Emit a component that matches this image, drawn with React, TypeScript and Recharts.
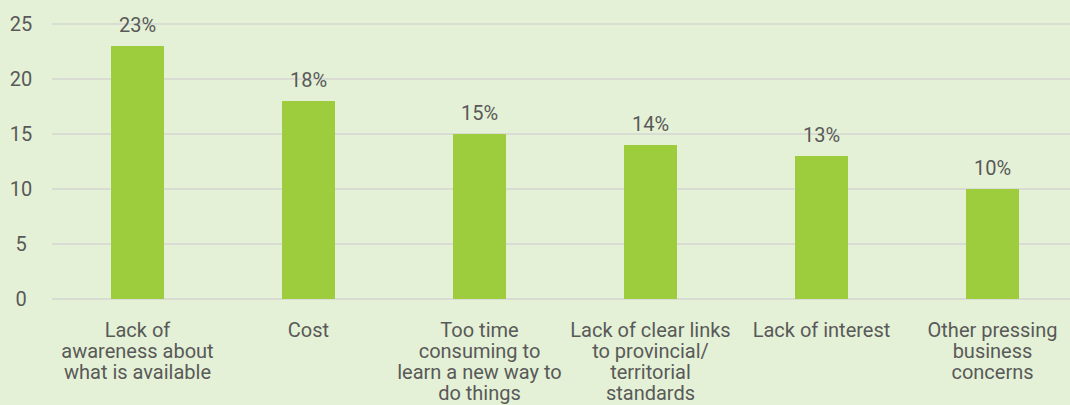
import React from 'react';
import { BarChart, Bar, XAxis, YAxis, CartesianGrid, LabelList } from 'recharts';

const categories = [
  'Lack of\nawareness about\nwhat is available',
  'Cost',
  'Too time\nconsuming to\nlearn a new way to\ndo things',
  'Lack of clear links\nto provincial/\nterritorial\nstandards',
  'Lack of interest',
  'Other pressing\nbusiness\nconcerns',
];
const shares = [23, 18, 15, 14, 13, 10];
const yTicks = [0, 5, 10, 15, 20, 25];

const data = categories.map((name, i) => ({ name, value: shares[i] }));

const FONT = 'Roboto, "Noto Sans", sans-serif';
const TEXT = '#595959';

const CategoryTick = (props: any) => {
  const { x, payload } = props;
  const lines = String(payload.value).split('\n');
  return (
    <text x={x} y={337} textAnchor="middle" fill={TEXT} fontSize={20} fontFamily={FONT}>
      {lines.map((line, i) => (
        <tspan key={i} x={x} dy={i === 0 ? 0 : 21}>{line}</tspan>
      ))}
    </text>
  );
};

const ValueTick = (props: any) => {
  const { y, payload } = props;
  return (
    <text x={21} y={y} dy={7} textAnchor="middle" fill={TEXT} fontSize={20} fontFamily={FONT}>
      {payload.value}
    </text>
  );
};

const PercentLabel = (props: any) => {
  const { x, y, width, value } = props;
  return (
    <text x={x + width / 2} y={y - 14} textAnchor="middle" fill={TEXT} fontSize={20} fontFamily={FONT}>
      {value}%
    </text>
  );
};

export default function App() {
  return (
    <div style={{ position: 'absolute', left: 0, top: 0, width: 1070, height: 405, overflow: 'hidden', background: '#e4f1d6' }}>
      <BarChart width={1090} height={405} data={data} margin={{ top: 24, right: 12, bottom: 0, left: 0 }}>
        <CartesianGrid vertical={false} stroke="#d9dcd3" strokeWidth={2} />
        <XAxis dataKey="name" interval={0} axisLine={false} tickLine={false} tick={<CategoryTick />} height={106} />
        <YAxis domain={[0, 25]} ticks={yTicks} axisLine={false} tickLine={false} width={52} tick={<ValueTick />} />
        <Bar dataKey="value" fill="#9dcc3c" barSize={53} isAnimationActive={false}>
          <LabelList dataKey="value" content={<PercentLabel />} />
        </Bar>
      </BarChart>
    </div>
  );
}
